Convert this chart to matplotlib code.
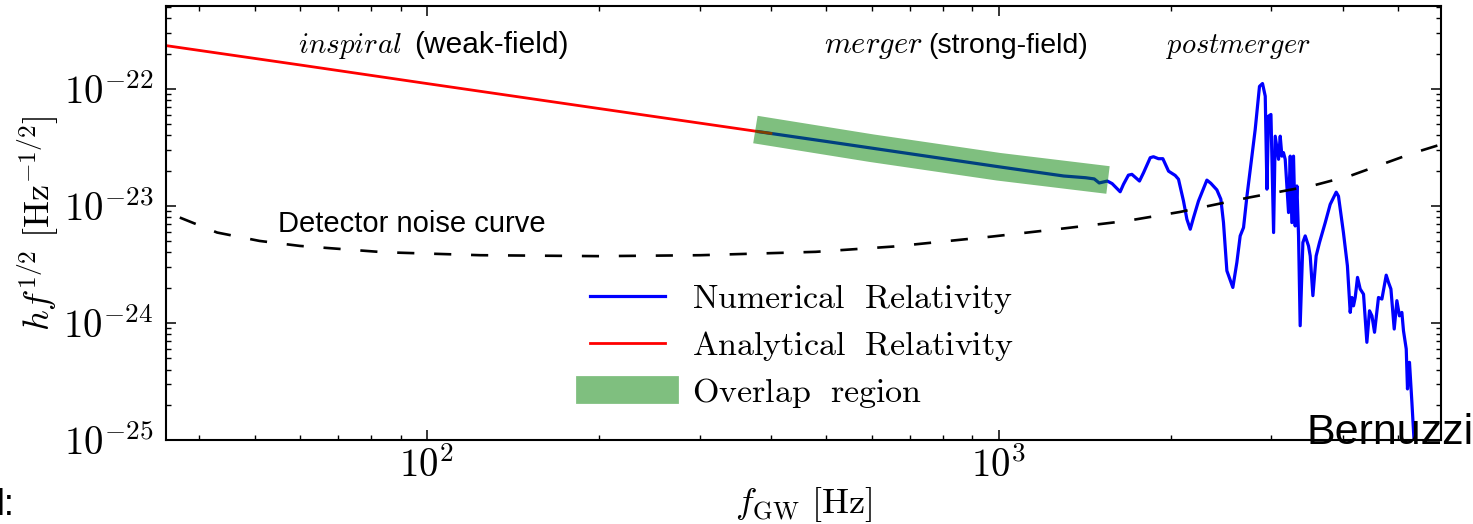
import numpy as np
import matplotlib
matplotlib.use("Agg")
import matplotlib.pyplot as plt
from matplotlib import ticker

plt.rcParams['mathtext.fontset'] = 'cm'
plt.rcParams['font.family'] = ['Liberation Sans', 'DejaVu Sans']

# analytical (inspiral) waveform
ar_f = [35, 60, 100, 200, 400]
ar_h = [2.34e-22, 1.60e-22, 1.11e-22, 6.79e-23, 4.16e-23]

# numerical relativity waveform
nr_f = [380, 500, 700, 1000, 1300, 1420, 1470, 1500, 1550, 1580,
        1632, 1654, 1687, 1711, 1764, 1793, 1842, 1866, 1904, 1938,
        1983, 2037, 2064, 2106, 2135, 2164, 2193, 2237, 2314, 2351,
        2409, 2448, 2474, 2508, 2569, 2611, 2646, 2682, 2719, 2774,
        2811, 2860, 2895, 2927, 2947, 2966, 2995, 3027, 3047, 3088,
        3109, 3130, 3150, 3172, 3215, 3237, 3258, 3280, 3302, 3325,
        3347, 3369, 3406, 3438, 3484, 3508, 3546, 3593, 3642, 3727,
        3802, 3895, 3931, 4010, 4075, 4121, 4150, 4176, 4205, 4244,
        4290, 4348, 4407, 4454, 4498, 4545, 4618, 4682, 4764, 4808,
        4855, 4920, 4973, 5025, 5074, 5107, 5164, 5190, 5232, 5283,
        5333]
nr_h = [4.31e-23, 3.55e-23, 2.79e-23, 2.16e-23, 1.80e-23, 1.74e-23, 1.70e-23, 1.57e-23, 1.63e-23, 1.55e-23,
        1.32e-23, 1.53e-23, 1.83e-23, 1.86e-23, 1.63e-23, 1.92e-23, 2.58e-23, 2.63e-23, 2.53e-23, 2.53e-23,
        1.98e-23, 1.82e-23, 1.69e-23, 1.10e-23, 7.69e-24, 6.32e-24, 7.95e-24, 1.10e-23, 1.66e-23, 1.56e-23,
        1.37e-23, 1.14e-23, 7.20e-24, 2.79e-24, 2.01e-24, 3.29e-24, 5.54e-24, 6.53e-24, 1.21e-23, 2.66e-23,
        4.50e-23, 1.05e-22, 1.11e-22, 8.65e-23, 1.39e-23, 5.84e-23, 6.04e-23, 5.92e-24, 3.94e-23, 2.50e-23,
        3.94e-23, 2.66e-23, 2.85e-23, 2.50e-23, 8.77e-24, 2.66e-23, 7.20e-24, 2.66e-23, 6.74e-24, 1.48e-23,
        5.54e-24, 9.47e-25, 4.87e-24, 5.54e-24, 4.55e-24, 3.74e-24, 1.71e-24, 3.74e-24, 4.87e-24, 7.20e-24,
        1.03e-23, 1.31e-23, 1.21e-23, 5.92e-24, 3.07e-24, 1.23e-24, 1.65e-24, 1.40e-24, 1.65e-24, 2.45e-24,
        1.95e-24, 1.76e-24, 6.83e-25, 1.27e-24, 1.15e-24, 8.32e-25, 1.65e-24, 1.60e-24, 2.56e-24, 2.22e-24,
        1.95e-24, 8.87e-25, 1.55e-24, 1.15e-24, 1.23e-24, 8.58e-25, 5.99e-25, 2.73e-25, 4.61e-25, 2.10e-25,
        9.3e-26]

# overlap region (drawn as a thick band)
ov_f = [397, 600, 1000, 1470]
ov_h = [4.30e-23, 3.11e-23, 2.16e-23, 1.72e-23]

# detector noise curve
noise_f = [37, 43, 51, 60, 84, 124, 201, 301, 479, 657,
           974, 1308, 1675, 2075, 2744, 3565, 4139, 5290, 5940]
noise_h = [7.95e-24, 5.92e-24, 5.02e-24, 4.55e-24, 4.02e-24, 3.79e-24, 3.72e-24, 3.79e-24, 4.05e-24, 4.50e-24,
           5.47e-24, 6.44e-24, 7.44e-24, 8.87e-24, 1.18e-23, 1.50e-23, 1.82e-23, 2.81e-23, 3.35e-23]

x_ticks = [1e2, 1e3]
y_ticks = [1e-25, 1e-24, 1e-23, 1e-22]

W, H = 1473, 524


def px(x, y):
    return x / W, 1 - y / H


fig = plt.figure(figsize=(W / 100, H / 100), dpi=100)
ax = fig.add_axes([166 / W, 1 - 440 / H, (1441 - 166) / W, (440 - 6) / H])

l_nr, = ax.plot(nr_f, nr_h, color='blue', lw=2.3, zorder=2)
l_ar, = ax.plot(ar_f, ar_h, color='red', lw=2.0, zorder=2)
l_ov, = ax.plot(ov_f, ov_h, color='green', lw=20, alpha=0.5,
                solid_capstyle='projecting', zorder=3)
ax.plot(noise_f, noise_h, color='black', lw=1.9, dashes=(6.5, 7.5), zorder=2)

ax.set_xscale('log')
ax.set_yscale('log')
ax.set_xlim(35, 5940)
ax.set_ylim(1e-25, 5.1e-22)
ax.set_xticks(x_ticks)
ax.set_yticks(y_ticks)

fmt = ticker.FuncFormatter(lambda v, pos: r'$10^{%d}$' % int(round(np.log10(v))))
for axis in (ax.xaxis, ax.yaxis):
    axis.set_major_formatter(fmt)
    axis.set_minor_locator(ticker.LogLocator(base=10, subs=np.arange(2, 10)))
    axis.set_minor_formatter(ticker.NullFormatter())

ax.tick_params(which='both', direction='in', top=True, right=True)
ax.tick_params(which='major', length=7, width=1.1, labelsize=28)
ax.tick_params(which='minor', length=3.6, width=1.0)
ax.tick_params(axis='y', pad=9)
ax.tick_params(axis='x', pad=5)
for s in ax.spines.values():
    s.set_linewidth(1.5)

ax.set_xlabel(r'$f_{\mathrm{GW}}\ [\mathrm{Hz}]$', fontsize=26, labelpad=0)
ax.set_ylabel(r'$hf^{1/2}\ [\mathrm{Hz}^{-1/2}]$', fontsize=26, labelpad=2)

# phase annotations
fig.text(*px(298, 53), r'$\mathit{inspiral}$', fontsize=21, va='baseline')
fig.text(*px(414, 53), '(weak-field)', fontsize=21.5, va='baseline')
fig.text(*px(824, 53), r'$\mathit{merger}$', fontsize=22, va='baseline')
fig.text(*px(928, 53), '(strong-field)', fontsize=20.5, va='baseline')
fig.text(*px(1166, 53), r'$\mathit{postmerger}$', fontsize=20.5, va='baseline')
fig.text(*px(278, 232), 'Detector noise curve', fontsize=21, va='baseline')

ax.legend([l_nr, l_ar, l_ov],
          [r'$\mathrm{Numerical\ \ Relativity}$',
           r'$\mathrm{Analytical\ \ Relativity}$',
           r'$\mathrm{Overlap\ \ region}$'],
          loc='center left', bbox_to_anchor=px(590, 346), bbox_transform=fig.transFigure,
          frameon=False, fontsize=24.5, handlelength=2.2, handletextpad=0.8,
          labelspacing=0.38, borderpad=0, borderaxespad=0)

# slide leftovers around the chart
fig.text(*px(1306, 444), 'Bernuzzi', fontsize=31, va='baseline')
fig.text(*px(-3, 515), 'l:', fontsize=26, va='baseline')

fig.savefig('out.png', dpi=100)
